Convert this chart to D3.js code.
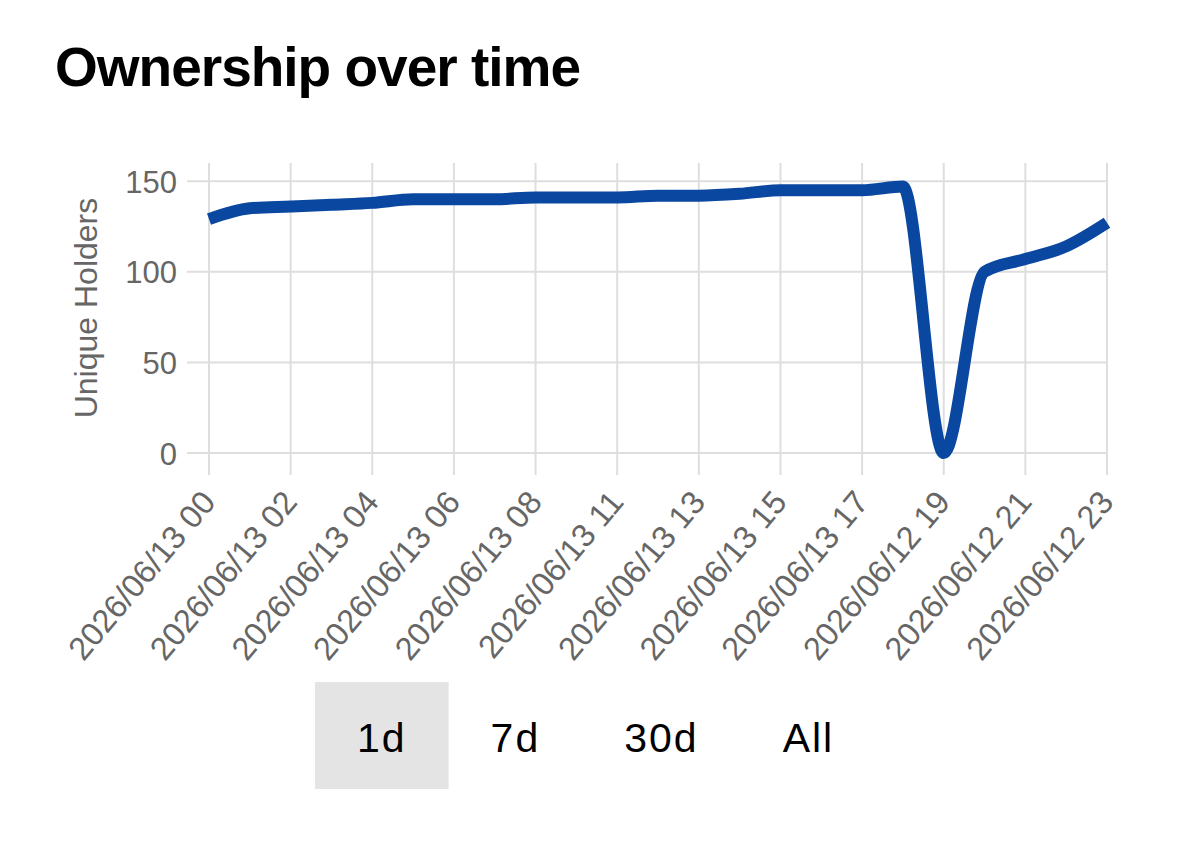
<!DOCTYPE html>
<html>
<head>
<meta charset="utf-8">
<script src="https://cdn.jsdelivr.net/npm/d3@7/dist/d3.min.js"></script>
<style>
  html, body { margin: 0; padding: 0; background: #fff; }
  svg { display: block; }
  text { font-family: "Liberation Sans", Arial, Helvetica, sans-serif; }
</style>
</head>
<body>
<svg id="chart" width="1200" height="845"></svg>
<script>
// ---- data ----
const categories = [
  "2026/06/13 00", "2026/06/13 01", "2026/06/13 02", "2026/06/13 03",
  "2026/06/13 04", "2026/06/13 05", "2026/06/13 06", "2026/06/13 07",
  "2026/06/13 08", "2026/06/13 10", "2026/06/13 11", "2026/06/13 12",
  "2026/06/13 13", "2026/06/13 14", "2026/06/13 15", "2026/06/13 16",
  "2026/06/13 17", "2026/06/12 18", "2026/06/12 19", "2026/06/12 20",
  "2026/06/12 21", "2026/06/12 22", "2026/06/12 23"
];
const holders = [129, 135, 136, 137, 138, 140, 140, 140, 141, 141, 141, 142,
                 142, 143, 145, 145, 145, 147, 0, 100, 107, 114, 127];
const yTicks = [0, 50, 100, 150];
const xTickLabels = categories.filter((d, i) => i % 2 === 0);
const ranges = ["1d", "7d", "30d", "All"];
const activeRange = "1d";

// ---- layout ----
const svg = d3.select("#chart");
const plot = { left: 209, right: 1107, top: 163, bottom: 453 };

const x = d3.scalePoint().domain(categories).range([plot.left, plot.right]);
const y = d3.scaleLinear().domain([0, 160]).range([plot.bottom, plot.top]);

// title
svg.append("text")
  .attr("x", 55).attr("y", 86)
  .attr("font-size", 55).attr("font-weight", "bold")
  .attr("letter-spacing", -1)
  .attr("fill", "#000")
  .text("Ownership over time");

const gridColor = "#dedede";

// horizontal grid
svg.append("g").selectAll("line").data(yTicks).join("line")
  .attr("x1", plot.left - 22).attr("x2", plot.right)
  .attr("y1", d => y(d)).attr("y2", d => y(d))
  .attr("stroke", gridColor).attr("stroke-width", 2);

// vertical grid
svg.append("g").selectAll("line").data(xTickLabels).join("line")
  .attr("x1", d => x(d)).attr("x2", d => x(d))
  .attr("y1", plot.top).attr("y2", plot.bottom + 22)
  .attr("stroke", gridColor).attr("stroke-width", 2);

// y axis labels
const yAxis = d3.axisLeft(y).tickValues(yTicks).tickSize(0).tickPadding(0);
const gy = svg.append("g").attr("transform", `translate(${plot.left - 32},0)`).call(yAxis);
gy.select(".domain").remove();
gy.selectAll("text")
  .attr("font-size", 31).attr("fill", "#666")
  .attr("font-family", "Liberation Sans, Arial, sans-serif")
  .attr("dy", "0.36em");

// y axis title
svg.append("text")
  .attr("transform", `translate(97,${(plot.top + plot.bottom) / 2}) rotate(-90)`)
  .attr("text-anchor", "middle")
  .attr("font-size", 32).attr("fill", "#666")
  .text("Unique Holders");

// x axis labels
const xAxis = d3.axisBottom(x).tickValues(xTickLabels).tickSize(0).tickPadding(0);
const gx = svg.append("g").call(xAxis);
gx.select(".domain").remove();
gx.selectAll(".tick").attr("transform", d => `translate(${x(d) + 8},503)`);
gx.selectAll("text")
  .attr("font-size", 32.5).attr("fill", "#666")
  .attr("font-family", "Liberation Sans, Arial, sans-serif")
  .attr("text-anchor", "end")
  .attr("x", 0).attr("y", 0).attr("dy", 0)
  .attr("transform", "rotate(-50)");

// line
const line = d3.line()
  .x((d, i) => x(categories[i]))
  .y(d => y(d))
  .curve(d3.curveMonotoneX);

svg.append("path")
  .datum(holders)
  .attr("d", line)
  .attr("fill", "none")
  .attr("stroke", "#0a47a0")
  .attr("stroke-width", 12)
  .attr("stroke-linejoin", "round");

// range buttons
const btnY = 682, btnH = 107, padX = 42, fontSize = 41;
const gb = svg.append("g");
let cx = 315;
ranges.forEach(r => {
  const t = gb.append("text")
    .attr("font-size", fontSize).attr("fill", "#000")
    .attr("letter-spacing", 2)
    .attr("y", 752)
    .text(r);
  const w = t.node().getComputedTextLength();
  const bw = w + padX * 2;
  if (r === activeRange) {
    gb.insert("rect", "text")
      .attr("x", cx).attr("y", btnY).attr("width", bw).attr("height", btnH)
      .attr("fill", "#e4e4e4");
  }
  t.attr("x", cx + padX);
  cx += bw;
});
</script>
</body>
</html>
